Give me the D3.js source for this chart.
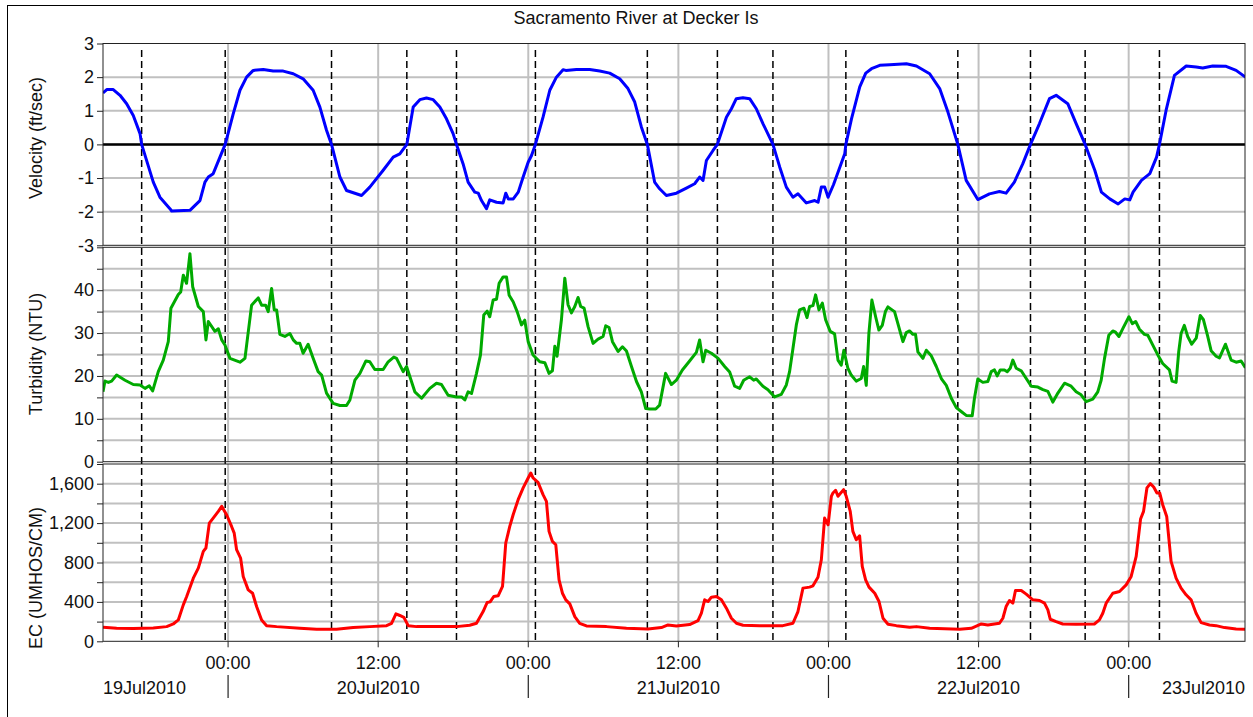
<!DOCTYPE html>
<meta charset="utf-8">
<style>
body { margin: 0; background: #fff; }
svg text { font-family: "Liberation Sans", Arial, sans-serif; fill: #111; }
.grid { stroke: #c0c0c0; stroke-width: 2px; }
.slack { stroke: #000; stroke-width: 1.5px; stroke-dasharray: 7,4; }
.frame { fill: none; stroke: #222; stroke-width: 1px; }
</style>
<div id="chart"></div>
<script src="https://d3js.org/d3.v7.min.js"></script>
<script>
// hours after 19Jul2010 14:00
var startTime = new Date(2010, 6, 19, 14, 0);
var spanHours = 91.3;

var title = "Sacramento River at Decker Is";

// velocity (ft/sec): [hour, value]
var velocity = [
  [0,1.53],[0.3,1.63],[0.82,1.63],[1.36,1.46],[1.89,1.21],[2.42,0.86],[2.96,0.32],[3.09,0],
  [4.02,-1.12],[4.55,-1.57],[5.35,-1.91],[5.49,-1.98],[6.95,-1.96],[7.75,-1.67],[8.15,-1.12],
  [8.42,-0.97],[8.81,-0.87],[9.35,-0.38],[9.77,0],[10.41,0.91],[10.95,1.61],[11.48,2.0],
  [12.01,2.2],[12.81,2.23],[13.61,2.18],[14.41,2.18],[15.21,2.1],[16.0,1.95],[16.8,1.61],
  [17.34,1.11],[17.87,0.42],[18.27,0],[18.94,-0.97],[19.47,-1.37],[20.67,-1.52],[21.33,-1.27],
  [22.4,-0.77],[23.2,-0.38],[23.73,-0.28],[24.29,0],[24.8,1.11],[25.33,1.33],[25.86,1.38],
  [26.4,1.33],[26.93,1.11],[27.46,0.76],[27.99,0.32],[28.26,0],[28.79,-0.58],[29.19,-1.12],
  [29.72,-1.42],[30.0,-1.45],[30.26,-1.67],[30.66,-1.91],[30.92,-1.65],[31.46,-1.72],
  [31.99,-1.74],[32.2,-1.45],[32.4,-1.62],[32.8,-1.62],[33.2,-1.42],[33.59,-0.97],[33.99,-0.53],
  [34.26,-0.33],[34.57,0],[35.18,0.81],[35.72,1.61],[36.25,2.0],[36.78,2.22],[37.0,2.2],
  [37.85,2.23],[38.91,2.23],[39.71,2.18],[40.51,2.12],[41.31,1.95],[41.97,1.66],[42.51,1.26],
  [43.04,0.52],[43.52,0],[44.1,-1.12],[44.5,-1.32],[45.04,-1.52],[45.84,-1.45],[46.64,-1.3],
  [47.3,-1.17],[47.7,-0.97],[47.97,-1.07],[48.24,-0.48],[48.77,-0.18],[49.12,0],[49.84,0.81],
  [50.24,1.06],[50.63,1.36],[51.16,1.39],[51.7,1.36],[52.23,1.06],[52.76,0.62],[53.56,0],
  [54.1,-0.67],[54.63,-1.27],[55.16,-1.57],[55.56,-1.47],[56.23,-1.74],[56.9,-1.67],
  [57.17,-1.72],[57.43,-1.27],[57.7,-1.27],[57.97,-1.57],[58.4,-1.2],[58.77,-0.82],[59.3,-0.28],
  [59.39,0],[59.84,0.76],[60.5,1.71],[60.98,2.12],[61.44,2.25],[62.1,2.35],[62.9,2.37],
  [64.23,2.4],[65.03,2.33],[66.09,2.1],[66.89,1.66],[67.55,0.96],[68.34,0],[69.01,-1.07],
  [69.94,-1.64],[70.87,-1.47],[71.67,-1.4],[72.2,-1.45],[72.86,-1.12],[73.53,-0.58],[74.15,0],
  [74.87,0.62],[75.67,1.36],[76.2,1.46],[77.13,1.21],[77.8,0.62],[78.52,0],[79.29,-0.77],
  [79.82,-1.42],[80.49,-1.62],[81.16,-1.77],[81.69,-1.62],[82.09,-1.65],[82.35,-1.42],
  [83.02,-1.07],[83.69,-0.87],[84.23,-0.38],[84.46,0],[84.99,1.01],[85.66,2.05],[86.6,2.33],
  [87.4,2.3],[87.92,2.27],[88.72,2.33],[89.79,2.32],[90.59,2.2],[91.33,2.0]
];

// turbidity (NTU): [hour, value]
var turbidity = [
  [0,16.3],[0.16,18.8],[0.43,18.5],[0.69,18.8],[1.09,20.2],[1.76,19.0],[2.42,18.0],[2.96,17.9],
  [3.36,17.1],[3.7,17.7],[3.97,16.5],[4.42,21.0],[4.82,23.7],[5.22,28.0],[5.43,35.8],[6.02,39.0],
  [6.21,39.6],[6.42,43.5],[6.68,41.6],[6.95,48.5],[7.17,40.8],[7.62,36.2],[8.02,35.0],[8.23,28.4],
  [8.42,32.7],[8.95,30.4],[9.22,31.0],[9.49,28.4],[9.75,27.2],[10.15,24.1],[10.68,23.5],
  [10.95,23.2],[11.35,24.1],[11.88,36.5],[12.41,38.2],[12.68,36.5],[13.0,36.5],[13.21,35.0],
  [13.48,40.4],[13.69,35.4],[13.88,35.4],[14.14,29.7],[14.54,29.2],[14.94,29.9],[15.21,28.4],
  [15.48,27.6],[15.74,27.6],[16.0,25.3],[16.4,27.4],[16.8,24.1],[17.2,21.0],[17.48,20.2],
  [17.87,16.0],[18.4,13.6],[18.94,13.1],[19.47,13.1],[19.74,14.4],[20.14,19.0],[20.54,20.6],
  [21.02,23.5],[21.33,23.3],[21.73,21.5],[22.4,21.5],[22.8,23.3],[23.25,24.4],[23.47,24.1],
  [24.0,21.0],[24.27,22.2],[24.93,16.3],[25.47,14.8],[26.13,17.1],[26.66,18.3],[27.06,18.0],
  [27.59,15.5],[28.26,15.1],[28.66,15.1],[28.93,14.4],[29.19,16.3],[29.46,15.9],[29.86,20.6],
  [30.18,24.9],[30.44,34.2],[30.71,35.1],[30.92,33.8],[31.19,37.7],[31.46,37.9],[31.67,41.6],
  [31.99,43.1],[32.26,43.1],[32.47,38.8],[32.79,37.3],[33.11,35.0],[33.46,31.9],[33.72,33.0],
  [33.99,28.0],[34.38,24.9],[34.92,23.3],[35.32,23.1],[35.66,20.6],[35.93,21.2],[36.12,26.9],
  [36.3,24.6],[36.65,33.1],[36.92,42.8],[37.18,36.6],[37.45,34.7],[37.72,36.2],[37.98,38.3],
  [38.19,36.2],[38.46,35.8],[38.78,31.5],[39.18,27.6],[39.58,28.6],[39.98,29.2],[40.19,31.7],
  [40.46,31.3],[40.73,28.0],[41.18,25.7],[41.53,26.8],[41.85,25.8],[42.25,22.2],[42.65,18.7],
  [43.04,16.3],[43.39,12.4],[43.71,12.3],[44.19,12.3],[44.5,13.2],[44.98,20.6],[45.44,18.0],
  [45.84,19.0],[46.32,21.4],[46.85,23.3],[47.44,25.5],[47.7,28.4],[47.97,23.3],[48.19,26.0],
  [48.64,25.3],[49.18,24.1],[49.7,22.2],[50.1,20.9],[50.5,17.6],[50.9,17.1],[51.22,19.0],
  [51.7,19.8],[52.02,19.0],[52.23,19.3],[52.76,17.6],[53.16,16.8],[53.7,15.1],[54.23,15.7],
  [54.63,17.9],[54.89,21.0],[55.16,26.4],[55.43,31.9],[55.69,35.4],[56.04,35.8],[56.28,33.6],
  [56.49,36.2],[56.76,36.4],[56.97,38.9],[57.24,35.4],[57.51,37.0],[57.77,33.1],[58.14,30.4],
  [58.49,29.8],[58.76,23.7],[59.02,22.5],[59.23,26.0],[59.55,21.8],[59.82,20.2],[60.22,18.8],
  [60.62,19.4],[60.81,22.2],[61.02,17.8],[61.23,29.9],[61.47,37.7],[61.77,33.8],[62.03,30.7],
  [62.3,31.8],[62.56,35.1],[62.75,36.1],[63.28,35.0],[63.55,32.2],[63.95,28.0],[64.22,30.1],
  [64.48,30.5],[64.75,29.7],[64.96,29.7],[65.15,25.6],[65.55,24.1],[65.82,26.0],[66.22,24.7],
  [66.62,22.2],[67.02,19.4],[67.42,17.8],[67.82,14.8],[68.22,12.6],[68.61,11.7],[69.01,10.8],
  [69.49,10.7],[69.67,14.8],[69.94,19.3],[70.34,18.5],[70.74,18.7],[71.01,21.0],[71.27,21.4],
  [71.49,20.0],[71.73,21.4],[72.07,21.4],[72.29,21.0],[72.53,21.8],[72.74,23.7],[73.01,21.8],
  [73.41,21.2],[73.81,19.4],[74.21,17.6],[74.74,17.4],[75.14,16.8],[75.54,16.4],[75.94,13.9],
  [76.34,16.0],[76.87,18.3],[77.4,17.6],[77.8,16.3],[78.2,15.6],[78.6,14.0],[79.13,14.6],
  [79.53,16.3],[79.8,19.0],[80.07,24.1],[80.41,29.5],[80.73,30.5],[80.95,30.2],[81.22,29.2],
  [81.54,31.1],[82.02,33.8],[82.29,32.2],[82.56,32.7],[82.86,30.9],[83.26,29.7],[83.53,29.5],
  [83.93,27.2],[84.33,24.9],[84.72,22.9],[85.26,21.4],[85.47,18.8],[85.79,18.5],[86.0,25.6],
  [86.19,29.9],[86.45,31.8],[86.72,29.2],[87.04,27.4],[87.4,28.8],[87.72,34.1],[87.98,33.1],
  [88.32,29.2],[88.59,25.9],[88.99,24.6],[89.26,24.2],[89.74,27.4],[90.19,23.7],[90.59,23.2],
  [90.99,23.5],[91.33,21.9]
];

// EC (umhos/cm): [hour, value]
var ec = [
  [0,142],[1.09,132],[2.42,129],[4.02,136],[5.09,149],[5.62,176],[6.02,217],[6.42,370],
  [6.69,455],[7.22,641],[7.62,743],[8.02,913],[8.23,947],[8.5,1200],[8.81,1251],[9.22,1319],
  [9.49,1370],[9.88,1285],[10.28,1166],[10.49,1098],[10.68,930],[11.0,845],[11.21,658],
  [11.61,522],[11.96,488],[12.28,353],[12.68,217],[13.08,159],[13.88,149],[15.74,132],
  [17.08,122],[18.67,122],[20.0,139],[21.33,149],[22.67,159],[23.07,183],[23.42,278],
  [23.73,262],[24.05,244],[24.4,159],[25.07,149],[26.39,149],[28.26,149],[29.32,163],
  [29.86,183],[30.39,302],[30.71,394],[30.95,400],[31.24,455],[31.59,462],[31.94,557],
  [32.2,998],[32.52,1166],[32.79,1285],[33.19,1438],[33.59,1557],[33.99,1658],[34.2,1709],
  [34.38,1658],[34.78,1614],[35.18,1489],[35.45,1421],[35.66,1116],[35.93,1014],[36.2,980],
  [36.46,624],[36.73,488],[37.0,421],[37.32,380],[37.72,251],[38.11,183],[38.65,156],
  [40.25,149],[41.85,132],[43.57,125],[44.64,139],[45.17,166],[45.84,156],[46.9,170],
  [47.57,210],[47.84,285],[48.1,421],[48.37,404],[48.64,448],[49.04,455],[49.44,421],
  [49.84,336],[50.24,234],[50.64,183],[51.17,163],[52.5,159],[54.36,159],[55.16,183],
  [55.56,302],[55.96,540],[56.49,550],[56.76,563],[57.16,651],[57.43,828],[57.69,1251],
  [57.97,1183],[58.23,1472],[58.36,1506],[58.57,1533],[58.76,1472],[59.21,1540],[59.42,1472],
  [59.74,1319],[59.95,1116],[60.22,1031],[60.49,1071],[60.7,760],[60.97,624],[61.24,550],
  [61.7,488],[62.04,404],[62.36,234],[62.76,173],[63.43,159],[64.49,142],[65.03,149],
  [66.09,132],[68.49,122],[69.42,132],[70.22,176],[70.74,166],[71.67,183],[71.94,234],
  [72.2,353],[72.47,414],[72.74,387],[72.95,516],[73.41,516],[73.81,479],[74.34,421],
  [74.87,414],[75.27,387],[75.54,319],[75.73,224],[76.2,200],[76.73,176],[77.8,173],
  [79.26,176],[79.66,217],[79.93,285],[80.2,387],[80.73,488],[81.27,506],[81.8,573],
  [82.2,658],[82.6,862],[82.95,1241],[83.19,1319],[83.46,1557],[83.73,1601],[84.0,1567],
  [84.26,1506],[84.48,1506],[84.72,1387],[85.04,1268],[85.39,811],[85.79,641],[86.19,540],
  [86.59,472],[86.99,421],[87.39,285],[87.79,190],[88.46,166],[88.99,159],[89.66,139],
  [90.59,125],[91.33,122]
];

// slack water (velocity zero crossings), hours
var slackHours = [3.09, 9.77, 18.27, 24.29, 28.26, 34.57, 43.52, 49.12, 53.56,
                  59.39, 68.34, 74.15, 78.52, 84.46];

var velTicks = [-3, -2, -1, 0, 1, 2, 3];
var velLabels = [-3, -2, -1, 0, 1, 2, 3];
var turbTicks = [0, 5, 10, 15, 20, 25, 30, 35, 40, 45, 50];
var turbLabels = [0, 10, 20, 30, 40];
var ecTicks = [0, 200, 400, 600, 800, 1000, 1200, 1400, 1600, 1800];
var ecLabels = [0, 400, 800, 1200, 1600];

var dayLabels = ["19Jul2010", "20Jul2010", "21Jul2010", "22Jul2010", "23Jul2010"];

var width = 1253, height = 717;
var left = 103, right = 1245;
var fontSize = "18px";

function hoursToDate(h) {
  return new Date(startTime.getTime() + h * 3600 * 1000);
}

var svg = d3.select("#chart").append("svg")
  .attr("width", width)
  .attr("height", height);

svg.append("rect")
  .attr("x", 7.5).attr("y", 5.5)
  .attr("width", 1260).attr("height", 720)
  .attr("fill", "none").attr("stroke", "#000");

svg.append("text")
  .attr("x", 636).attr("y", 24)
  .attr("text-anchor", "middle")
  .style("font-size", fontSize)
  .text(title);

var x = d3.scaleTime()
  .domain([startTime, hoursToDate(spanHours)])
  .range([left, right]);

var xTicks = d3.timeHour.every(12).range(x.domain()[0], x.domain()[1]);

var panels = [
  { name: "vel", data: velocity, top: 43.5, bottom: 245.3, domain: [-3, 3],
    ticks: velTicks, labels: velLabels, color: "#0000ff",
    title: "Velocity (ft/sec)", titleY: 138, fmt: function(d) { return String(d); } },
  { name: "turb", data: turbidity, top: 247.3, bottom: 461.7, domain: [0, 50],
    ticks: turbTicks, labels: turbLabels, color: "#00aa00",
    title: "Turbidity (NTU)", titleY: 354, fmt: function(d) { return String(d); } },
  { name: "ec", data: ec, top: 464, bottom: 641.3, domain: [0, 1800],
    ticks: ecTicks, labels: ecLabels, color: "#ff0000",
    title: "EC (UMHOS/CM)", titleY: 578, fmt: d3.format(",") }
];

panels.forEach(function(p) {
  var y = d3.scaleLinear().domain(p.domain).range([p.bottom, p.top]);
  p.y = y;
  var g = svg.append("g").attr("class", "panel-" + p.name);

  g.append("clipPath").attr("id", "clip-" + p.name)
    .append("rect")
    .attr("x", left).attr("y", p.top)
    .attr("width", right - left).attr("height", p.bottom - p.top);

  // horizontal grid
  g.selectAll(".hgrid")
    .data(p.ticks.filter(function(t) { return t !== p.domain[0] && t !== p.domain[1]; }))
    .enter().append("line")
    .attr("class", "grid")
    .attr("x1", left).attr("x2", right)
    .attr("y1", function(d) { return y(d); })
    .attr("y2", function(d) { return y(d); });

  // vertical grid
  g.selectAll(".vgrid")
    .data(xTicks)
    .enter().append("line")
    .attr("class", "grid")
    .attr("x1", function(d) { return x(d); })
    .attr("x2", function(d) { return x(d); })
    .attr("y1", p.top).attr("y2", p.bottom);

  if (p.name === "vel") {
    g.append("line")
      .attr("x1", left).attr("x2", right)
      .attr("y1", y(0)).attr("y2", y(0))
      .attr("stroke", "#000").attr("stroke-width", 2.5);
  }

  // y axis
  var axis = d3.axisLeft(y)
    .tickValues(p.ticks)
    .tickSize(6)
    .tickPadding(3)
    .tickFormat(function(d) { return p.labels.indexOf(d) >= 0 ? p.fmt(d) : ""; });

  var ax = g.append("g")
    .attr("transform", "translate(" + left + ",0)")
    .call(axis);
  ax.select(".domain").remove();
  ax.selectAll("line").attr("stroke", "#222");
  ax.selectAll("text")
    .style("font-size", fontSize)
    .style("font-family", "'Liberation Sans', Arial, sans-serif")
    .attr("fill", "#111");

  g.append("text")
    .attr("transform", "translate(36," + p.titleY + ") rotate(-90)")
    .attr("text-anchor", "middle")
    .attr("dominant-baseline", "central")
    .style("font-size", fontSize)
    .text(p.title);
});

// slack water lines across all panels
svg.append("g").selectAll("line")
  .data(slackHours)
  .enter().append("line")
  .attr("class", "slack")
  .attr("x1", function(d) { return x(hoursToDate(d)); })
  .attr("x2", function(d) { return x(hoursToDate(d)); })
  .attr("y1", 50).attr("y2", 641.3);

panels.forEach(function(p) {
  var line = d3.line()
    .x(function(d) { return x(hoursToDate(d[0])); })
    .y(function(d) { return p.y(d[1]); });

  svg.append("path")
    .datum(p.data)
    .attr("clip-path", "url(#clip-" + p.name + ")")
    .attr("fill", "none")
    .attr("stroke", p.color)
    .attr("stroke-width", 3)
    .attr("stroke-linejoin", "round")
    .attr("d", line);

  svg.append("rect")
    .attr("class", "frame")
    .attr("x", left).attr("y", p.top)
    .attr("width", right - left).attr("height", p.bottom - p.top);
});

// x axis
var xb = 641.3;
var xg = svg.append("g");
xg.selectAll(".xtick")
  .data(xTicks)
  .enter().append("line")
  .attr("x1", function(d) { return x(d); })
  .attr("x2", function(d) { return x(d); })
  .attr("y1", xb).attr("y2", xb + 6)
  .attr("stroke", "#222");

xg.selectAll(".xlabel")
  .data(xTicks)
  .enter().append("text")
  .attr("x", function(d) { return x(d); })
  .attr("y", 669)
  .attr("text-anchor", "middle")
  .style("font-size", fontSize)
  .text(d3.timeFormat("%H:%M"));

var midnights = xTicks.filter(function(d) { return d.getHours() === 0; });
xg.selectAll(".daysep")
  .data(midnights)
  .enter().append("line")
  .attr("x1", function(d) { return x(d); })
  .attr("x2", function(d) { return x(d); })
  .attr("y1", 675).attr("y2", 698)
  .attr("stroke", "#222").attr("stroke-width", 1.2);

var day0 = new Date(2010, 6, 19, 12, 0);
xg.selectAll(".daylabel")
  .data(dayLabels)
  .enter().append("text")
  .attr("y", 694)
  .style("font-size", fontSize)
  .text(function(d) { return d; })
  .each(function(d, i) {
    var cx = x(d3.timeDay.offset(day0, i));
    var w = this.getComputedTextLength();
    var x0 = cx - w / 2;
    if (x0 < left) x0 = left;
    if (x0 + w > right) x0 = right - w;
    d3.select(this).attr("x", x0);
  });
</script>
